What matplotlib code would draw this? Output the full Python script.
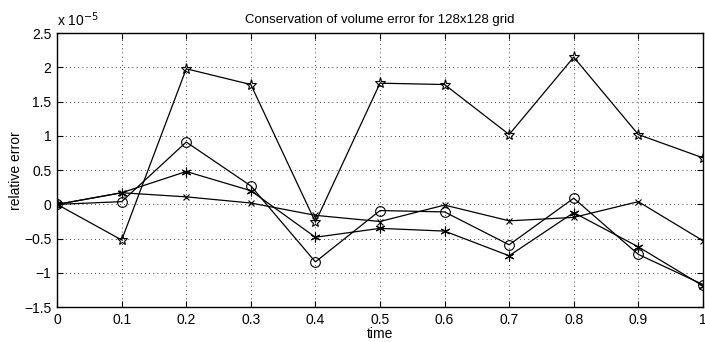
# Conservation of volume error plot (MATLAB-style look)

import matplotlib
matplotlib.use('Agg')
import matplotlib.pyplot as plt
import numpy as np

plt.rcParams['font.family'] = ['Liberation Sans', 'DejaVu Sans']

# values are in units of 1e-5
time = [0.0, 0.1, 0.2, 0.3, 0.4, 0.5, 0.6, 0.7, 0.8, 0.9, 1.0]
err_star = [0.0, -0.52, 1.98, 1.75, -0.26, 1.77, 1.75, 1.02, 2.15, 1.02, 0.68]
err_circle = [0.0, 0.04, 0.91, 0.27, -0.84, -0.09, -0.11, -0.59, 0.09, -0.73, -1.17]
err_cross = [0.0, 0.17, 0.11, 0.02, -0.16, -0.25, -0.01, -0.24, -0.19, 0.04, -0.53]
err_aster = [0.0, 0.17, 0.48, 0.20, -0.48, -0.35, -0.39, -0.75, -0.12, -0.62, -1.19]

xticks = [0, 0.1, 0.2, 0.3, 0.4, 0.5, 0.6, 0.7, 0.8, 0.9, 1]
xticklabels = ['0', '0.1', '0.2', '0.3', '0.4', '0.5', '0.6', '0.7', '0.8', '0.9', '1']
yticks = [-1.5, -1, -0.5, 0, 0.5, 1, 1.5, 2, 2.5]
yticklabels = ['\u22121.5', '\u22121', '\u22120.5', '0', '0.5', '1', '1.5', '2', '2.5']

fig = plt.figure(figsize=(7.05, 3.42), dpi=100)
ax = fig.add_axes([0.081, 0.102, 0.916, 0.801])

lw = 0.9
ax.plot(time, err_star, color='k', lw=lw, marker='*', ms=8, mfc='none', mew=0.8)
ax.plot(time, err_circle, color='k', lw=lw, marker='o', ms=7, mfc='none', mew=0.8)
ax.plot(time, err_cross, color='k', lw=lw, marker='x', ms=5, mew=0.8)
ax.plot(time, err_aster, color='k', lw=lw, marker=(6, 2, 0), ms=7, mew=0.8)

ax.set_xlim(0, 1)
ax.set_ylim(-1.5, 2.5)
ax.set_xticks(xticks)
ax.set_xticklabels(xticklabels)
ax.set_yticks(yticks)
ax.set_yticklabels(yticklabels)
ax.tick_params(direction='in', top=True, right=True, labelsize=10, length=4, pad=4)
ax.grid(True, linestyle=(0, (1, 4)), color='k', lw=0.6)
for s in ax.spines.values():
    s.set_linewidth(1.0)

ax.set_title('Conservation of volume error for 128x128 grid', fontsize=9.5, pad=7)
ax.set_xlabel('time', fontsize=10, labelpad=0)
ax.set_ylabel('relative error', fontsize=10, labelpad=1)
ax.text(0.0, 1.015, 'x 10$^{-5}$', transform=ax.transAxes, fontsize=10,
        ha='left', va='bottom')

fig.savefig('out.png', dpi=100)
